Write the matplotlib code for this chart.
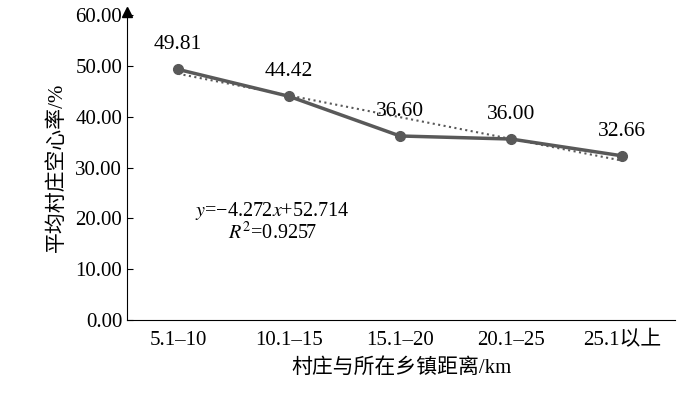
import matplotlib as mpl
import matplotlib.pyplot as plt
import numpy as np

mpl.rcParams["font.family"] = ["Liberation Serif", "Noto Sans CJK SC"]
mpl.rcParams["mathtext.fontset"] = "stix"

categories = ["5.1–10", "10.1–15", "15.1–20", "20.1–25", "25.1以上"]
values = [49.81, 44.42, 36.60, 36.00, 32.66]
plotted = [49.3, 44.0, 36.2, 35.6, 32.3]
slope, intercept = -4.272, 52.714

x = np.arange(1, len(categories) + 1)
fig = plt.figure(figsize=(6.94, 4.0), dpi=100)
ax = fig.add_axes([0.183, 0.2, 0.79, 0.7625])

ax.plot(x, plotted, color="#595959", lw=2.5, marker="o", ms=7, zorder=3)
ax.plot(x, slope * x + intercept, color="#595959", lw=1.5, ls=":", zorder=2)
for xi, v, p in zip(x, values, plotted):
    ax.text(xi, p + 3.0, f"{v:.2f}", ha="center", va="bottom", fontsize=15.5)

ax.text(1.85, 20.4, r"$y$=−4.272$x$+52.714", ha="center", fontsize=14.5)
ax.text(1.85, 15.9, r"$R^2$=0.9257", ha="center", fontsize=14.5)

ax.set_xlim(0.54, 5.48)
ax.set_ylim(0, 60)
ax.set_xticks(x)
ax.set_xticklabels(categories, fontsize=15)
ax.set_yticks(np.arange(0, 61, 10))
ax.set_yticklabels([f"{t:.2f}" for t in range(0, 61, 10)], fontsize=15)
ax.tick_params(axis="x", length=0, pad=8)
ax.tick_params(axis="y", direction="in", length=4)
for s in ["top", "right"]:
    ax.spines[s].set_visible(False)
ax.spines["left"].set_bounds(0, 61)
ax.plot(0, 1.01, "^k", ms=7, transform=ax.transAxes, clip_on=False)
ax.set_ylabel("平均村庄空心率/%", fontsize=15, labelpad=6)
ax.set_xlabel("村庄与所在乡镇距离/km", fontsize=15, labelpad=6)

fig.savefig("out.png", dpi=100)
